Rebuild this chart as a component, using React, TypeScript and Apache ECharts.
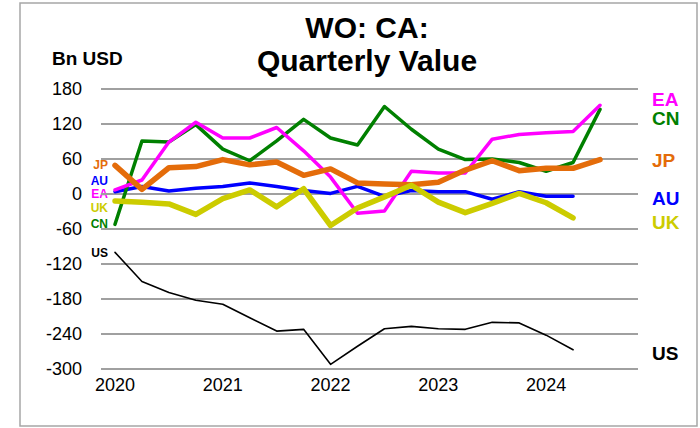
import React, { useEffect, useRef } from "react";
import * as echarts from "echarts";

const quarters = [
  "2020Q1", "2020Q2", "2020Q3", "2020Q4",
  "2021Q1", "2021Q2", "2021Q3", "2021Q4",
  "2022Q1", "2022Q2", "2022Q3", "2022Q4",
  "2023Q1", "2023Q2", "2023Q3", "2023Q4",
  "2024Q1", "2024Q2", "2024Q3",
];
const yearTicks = [0, 4, 8, 12, 16];
const yearLabels = ["2020", "2021", "2022", "2023", "2024"];

const EA = [7, 24, 89, 123, 96, 96, 114, 74, 29, -33, -29, 39, 36, 36, 94, 102, 105, 107, 152];
const CN = [-52, 91, 89, 119, 77, 57, 91, 128, 96, 84, 150, 111, 77, 59, 60, 54, 39, 54, 145];
const JP = [49, 8, 45, 47, 59, 50, 55, 32, 43, 19, 17, 16, 20, 41, 57, 40, 44, 44, 59];
const AU = [4, 13, 5, 10, 13, 19, 13, 6, 1, 13, -4, 6, 4, 4, -9, 4, -4, -4];
const UK = [-12, -14, -17, -35, -8, 7, -22, 9, -54, -24, -5, 15, -14, -32, -16, 1, -15, -41];
const US = [-100, -150, -169, -182, -189, -212, -235, -232, -292, -261, -231, -227, -231, -232, -220, -221, -242, -267];

const COLORS: Record<string, string> = {
  EA: "#FF00FF",
  CN: "#008000",
  JP: "#E46C0A",
  AU: "#0000FF",
  UK: "#CCCC00",
  US: "#000000",
};

const FONT = "Liberation Sans, Arial, sans-serif";

function pairs(arr: number[]) {
  return arr.map((v, i) => [i, v]);
}

export default function App() {
  const ref = useRef<HTMLDivElement>(null);
  useEffect(() => {
    if (!ref.current) return;
    const chart = echarts.init(ref.current, null, { renderer: "svg" });
    const line = (name: string, data: number[], width: number, z: number) => ({
      name,
      type: "line",
      data: pairs(data),
      showSymbol: false,
      symbol: "none",
      z,
      lineStyle: { color: COLORS[name], width, cap: "round", join: "round" },
      itemStyle: { color: COLORS[name] },
    });
    const leftLabels: [string, number][] = [
      ["JP", 165], ["AU", 181], ["EA", 194], ["UK", 208], ["CN", 224], ["US", 253],
    ];
    const rightLabels: [string, number][] = [
      ["EA", 99], ["CN", 118], ["JP", 160], ["AU", 198], ["UK", 222], ["US", 353],
    ];
    const graphics: any[] = [
      {
        type: "rect",
        shape: { x: 20, y: 3, width: 677, height: 423 },
        style: { fill: "none", stroke: "#A6A6A6", lineWidth: 1.5 },
        silent: true,
        z: -10,
      },
      {
        type: "text",
        x: 367,
        y: 27,
        style: { text: "WO: CA:", font: `bold 30px ${FONT}`, fill: "#000", textAlign: "center", textVerticalAlign: "middle" },
      },
      {
        type: "text",
        x: 367,
        y: 60,
        style: { text: "Quarterly Value", font: `bold 30px ${FONT}`, fill: "#000", textAlign: "center", textVerticalAlign: "middle" },
      },
      {
        type: "text",
        x: 52,
        y: 58,
        style: { text: "Bn USD", font: `bold 19px ${FONT}`, fill: "#000", textAlign: "left", textVerticalAlign: "middle" },
      },
    ];
    leftLabels.forEach(([n, y]) =>
      graphics.push({
        type: "text",
        x: 108,
        y,
        style: { text: n, font: `bold 12px ${FONT}`, fill: COLORS[n], textAlign: "right", textVerticalAlign: "middle" },
      })
    );
    rightLabels.forEach(([n, y]) =>
      graphics.push({
        type: "text",
        x: 652,
        y,
        style: { text: n, font: `bold 19px ${FONT}`, fill: COLORS[n], textAlign: "left", textVerticalAlign: "middle" },
      })
    );

    chart.setOption({
      animation: false,
      backgroundColor: "#FFFFFF",
      grid: { left: 101, right: 62, top: 89, bottom: 59, containLabel: false },
      xAxis: {
        type: "value",
        min: -0.52,
        max: 19.41,
        axisLine: { show: false },
        axisTick: { show: false },
        splitLine: { show: false },
        axisLabel: {
          customValues: yearTicks,
          formatter: (v: number) => yearLabels[yearTicks.indexOf(Math.round(v))] ?? "",
          color: "#000",
          fontSize: 18,
          fontFamily: FONT,
          margin: 7,
        },
      },
      yAxis: {
        type: "value",
        min: -300,
        max: 180,
        interval: 60,
        axisLine: { show: false },
        axisTick: { show: false },
        splitLine: { show: true, lineStyle: { color: "#A0A0A0", width: 2 } },
        axisLabel: { color: "#000", fontSize: 18, fontFamily: FONT, margin: 19 },
      },
      series: [
        line("US", US, 1.6, 1),
        line("AU", AU, 3.5, 2),
        line("CN", CN, 3.5, 3),
        line("EA", EA, 3.5, 4),
        line("JP", JP, 5.5, 5),
        line("UK", UK, 5.5, 6),
      ],
      graphic: graphics,
    });
    return () => chart.dispose();
  }, []);
  return (
    <div
      ref={ref}
      style={{ position: "absolute", left: 0, top: 0, width: 700, height: 428 }}
      data-quarters={quarters.length}
    />
  );
}
